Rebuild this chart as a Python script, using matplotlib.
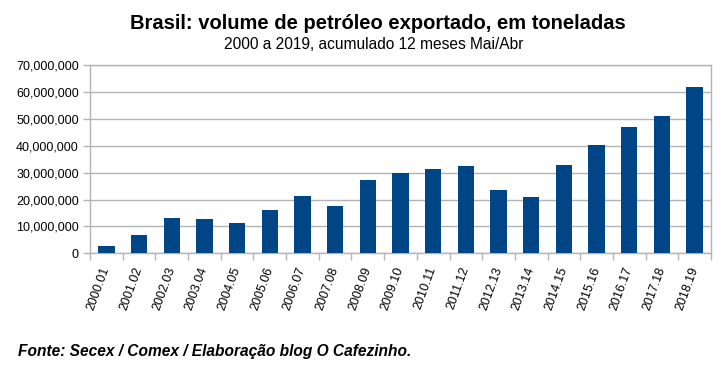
import numpy as np
import matplotlib
matplotlib.use("Agg")
import matplotlib.pyplot as plt
from matplotlib.ticker import FuncFormatter

plt.rcParams['font.family'] = ['Liberation Sans', 'DejaVu Sans']

# periods Mai/Abr and exported volume (tonnes)
periods = ['2000.01', '2001.02', '2002.03', '2003.04', '2004.05', '2005.06',
           '2006.07', '2007.08', '2008.09', '2009.10', '2010.11', '2011.12',
           '2012.13', '2013.14', '2014.15', '2015.16', '2016.17', '2017.18',
           '2018.19']
volume = [2.6e6, 6.7e6, 13.3e6, 12.6e6, 11.2e6, 16.0e6,
          21.4e6, 17.4e6, 27.2e6, 30.0e6, 31.5e6, 32.6e6,
          23.5e6, 20.8e6, 33.0e6, 40.1e6, 46.9e6, 50.9e6,
          61.8e6]
y_ticks = np.arange(0, 70e6 + 1, 10e6)

bar_color = '#004586'
grid_color = '#b3b3b3'

fig = plt.figure(figsize=(7.22, 3.72), dpi=100)
ax = fig.add_axes([90 / 722, 1 - 253.3 / 372, 621 / 722, 188.3 / 372])

x = np.arange(len(periods))
ax.bar(x, volume, width=0.5, color=bar_color, zorder=3)

ax.set_xlim(-0.5, len(periods) - 0.5)
ax.set_ylim(0, 70e6)
ax.set_yticks(y_ticks)
ax.yaxis.set_major_formatter(FuncFormatter(lambda v, p: '{:,.0f}'.format(v)))
ax.grid(axis='y', color=grid_color, linewidth=1, zorder=0)

# labels at category centres, tick marks on boundaries
ax.set_xticks(x)
ax.set_xticklabels(periods, rotation=70, ha='right', va='center',
                   rotation_mode='anchor', fontsize=9)
ax.set_xticks(np.arange(-0.5, len(periods), 1), minor=True)
ax.tick_params(axis='x', which='major', length=0, pad=10)
ax.tick_params(axis='x', which='minor', length=5, color=grid_color, width=1)
ax.tick_params(axis='y', length=5, color=grid_color, width=1, labelsize=9, pad=3)

for s in ax.spines.values():
    s.set_color(grid_color)
    s.set_linewidth(1)

fig.text(378 / 722, 1 - 29 / 372, 'Brasil: volume de petróleo exportado, em toneladas',
         ha='center', va='baseline', fontsize=14.5, fontweight='bold')
fig.text(374 / 722, 1 - 49 / 372, '2000 a 2019, acumulado 12 meses Mai/Abr',
         ha='center', va='baseline', fontsize=11.2)
fig.text(18 / 722, 1 - 356 / 372, 'Fonte: Secex / Comex / Elaboração blog O Cafezinho.',
         ha='left', va='baseline', fontsize=11.2, fontweight='bold', fontstyle='italic',
         family=['Liberation Sans Narrow', 'Liberation Sans'])

fig.savefig('out.png', dpi=100)
